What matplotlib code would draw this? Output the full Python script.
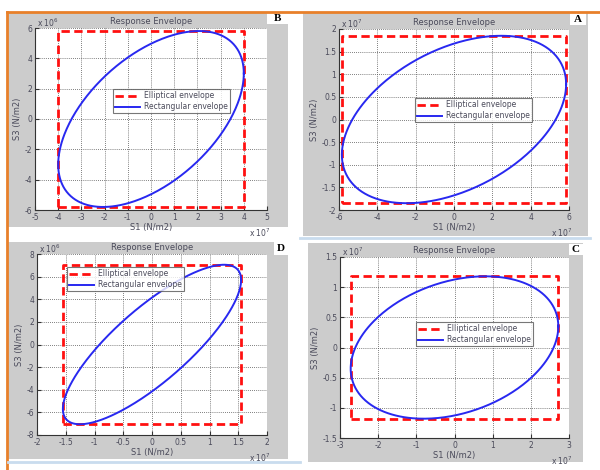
import numpy as np
import matplotlib
matplotlib.use('Agg')
import matplotlib.pyplot as plt
from matplotlib.patches import Rectangle
from matplotlib.lines import Line2D
from matplotlib.ticker import FuncFormatter, MultipleLocator

W, H = 600, 470

# ===== Envelope data (N/m2) =====
panels = ['B', 'A', 'D', 'C']
s1_max = [4.0e7, 5.85e7, 1.55e7, 2.72e7]        # half-width of rectangular envelope
s3_max = [5.8e6, 1.85e7, 7.05e6, 1.18e7]        # half-height of rectangular envelope
s3_at_s1max = [3.0e6, 0.78e7, 5.7e6, 0.35e7]    # S3 where the ellipse touches S1 max

x_lims = [(-5e7, 5e7), (-6e7, 6e7), (-2e7, 2e7), (-3e7, 3e7)]
y_lims = [(-6e6, 6e6), (-2e7, 2e7), (-8e6, 8e6), (-1.5e7, 1.5e7)]
x_steps = [1e7, 2e7, 0.5e7, 1e7]
y_steps = [2e6, 0.5e7, 2e6, 0.5e7]
x_exp = [7, 7, 7, 7]
y_exp = [6, 7, 6, 7]

# ===== Layout in pixels (left, top, right, bottom) =====
gray_boxes = [(8, 13, 288, 227), (303, 13, 588, 236), (8, 242, 288, 459), (308, 243, 583, 462)]
axes_boxes = [(35, 28, 267, 210), (339, 29, 569, 210), (37, 254, 267, 435), (340, 257, 569, 438)]
tag_boxes = [(267, 13, 288, 24), (570, 13, 586, 25), (274, 242, 288, 255), (569, 244, 583, 255)]
legend_anchor = [(113, 89), (415, 98), (67, 267), (416, 322)]


def fig_rect(l, t, r, b):
    return [l / W, 1 - b / H, (r - l) / W, (b - t) / H]


fig = plt.figure(figsize=(6, 4.7), dpi=100)
fig.patch.set_facecolor('white')

# orange frame and light blue separators
fig.add_artist(Line2D([7 / W, 1], [1 - 12 / H] * 2, color='#e8802a', lw=2))
fig.add_artist(Line2D([7 / W] * 2, [0, 1 - 12 / H], color='#e8802a', lw=2))
fig.add_artist(Line2D([300 / W, 590 / W], [1 - 238 / H] * 2, color='#c9dcee', lw=2))
fig.add_artist(Line2D([8 / W, 300 / W], [1 - 462 / H] * 2, color='#c9dcee', lw=2))

txt_col = '#4a4a5a'
t = np.linspace(0, 2 * np.pi, 400)

for i, name in enumerate(panels):
    gl, gt, gr, gb = gray_boxes[i]
    fig.add_artist(Rectangle((gl / W, 1 - gb / H), (gr - gl) / W, (gb - gt) / H,
                             transform=fig.transFigure, facecolor='#cccccc', edgecolor='none', zorder=0))
    tl, tt, tr, tb = tag_boxes[i]
    fig.add_artist(Rectangle((tl / W, 1 - tb / H), (tr - tl) / W, (tb - tt) / H,
                             transform=fig.transFigure, facecolor='white', edgecolor='none', zorder=1))
    fig.text((tl + tr) / 2 / W, 1 - (tt + tb) / 2 / H, name, ha='center', va='center',
             fontsize=8, fontweight='bold', family='Liberation Serif', zorder=2)

    ax = fig.add_axes(fig_rect(*axes_boxes[i]))
    ax.set_facecolor('white')

    a, b = s1_max[i], s3_max[i]
    phi = np.arccos(s3_at_s1max[i] / b)
    ell_x = a * np.cos(t)
    ell_y = b * np.cos(t - phi)
    rect_x = [-a, a, a, -a, -a]
    rect_y = [-b, -b, b, b, -b]

    ax.plot(rect_x, rect_y, color='#ff1010', lw=2, ls=(0, (3, 1.6)), label='Elliptical envelope')
    ax.plot(ell_x, ell_y, color='#2828f0', lw=1.4, label='Rectangular envelope')

    ax.set_xlim(*x_lims[i])
    ax.set_ylim(*y_lims[i])
    ax.xaxis.set_major_locator(MultipleLocator(x_steps[i]))
    ax.yaxis.set_major_locator(MultipleLocator(y_steps[i]))
    ax.xaxis.set_major_formatter(FuncFormatter(lambda v, p, e=x_exp[i]: f'{v / 10**e:g}'))
    ax.yaxis.set_major_formatter(FuncFormatter(lambda v, p, e=y_exp[i]: f'{v / 10**e:g}'))
    ax.grid(True, color='#555555', ls=(0, (1, 1.5)), lw=0.6)
    ax.tick_params(direction='in', length=3, labelsize=5.5, colors='#333333',
                   labelcolor=txt_col, pad=2)
    for s in ['top', 'right']:
        ax.spines[s].set_visible(False)
    for s in ['left', 'bottom']:
        ax.spines[s].set_color('#333333')
        ax.spines[s].set_linewidth(0.8)

    ax.set_title('Response Envelope', fontsize=6, color=txt_col, pad=3)
    ax.set_xlabel('S1 (N/m2)', fontsize=6, color=txt_col, labelpad=1)
    ax.set_ylabel('S3 (N/m2)', fontsize=6, color=txt_col, labelpad=2)

    # exponent labels
    al, at, ar, ab = axes_boxes[i]
    fig.text((al + 2) / W, 1 - (at - 5) / H, f'x 10$^{{{y_exp[i]}}}$', fontsize=5.5,
             color=txt_col, va='center', ha='left')
    fig.text((ar - 18) / W, 1 - (ab + 23) / H, f'x 10$^{{{x_exp[i]}}}$', fontsize=5.5,
             color=txt_col, va='center', ha='left')

    lx, ly = legend_anchor[i]
    leg = ax.legend(loc='upper left', bbox_to_anchor=(lx / W, 1 - ly / H),
                    bbox_transform=fig.transFigure, fontsize=5.5, frameon=True, fancybox=False,
                    handlelength=3.2, handletextpad=0.5, borderpad=0.3, labelspacing=0.25,
                    borderaxespad=0)
    leg.get_frame().set_edgecolor('#555555')
    leg.get_frame().set_linewidth(0.8)
    for txt in leg.get_texts():
        txt.set_color(txt_col)

fig.savefig('out.png', dpi=100)
